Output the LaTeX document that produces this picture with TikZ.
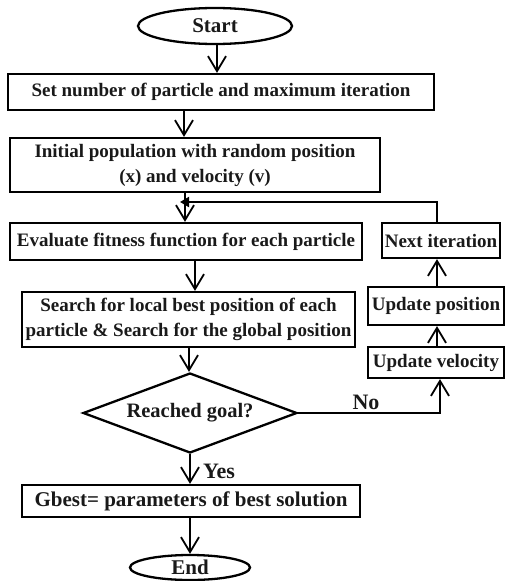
\documentclass[tikz,border=0pt]{standalone}
\usepackage{fontspec}
\setmainfont{Liberation Serif}
\usetikzlibrary{shapes.geometric,arrows.meta}
\tikzset{
  base/.style={draw=black, line width=2.3pt, inner sep=0pt, align=center,
    font=\bfseries\fontsize{19}{25}\selectfont, text=black!90},
  box/.style={base, rectangle},
  term/.style={base, ellipse, font=\bfseries\fontsize{21}{25}\selectfont},
  dec/.style={base, diamond, aspect=2.675, font=\bfseries\fontsize{20.5}{25}\selectfont},
  lab/.style={inner sep=0pt, font=\bfseries\fontsize{22}{25}\selectfont, text=black!90},
  arr/.style={line width=2pt, -{Straight Barb[length=15pt,width=18pt,line width=1.8pt]}},
  looparr/.style={line width=2pt, -{Triangle[length=9pt,width=10pt]}},
}
\begin{document}
\begin{tikzpicture}[x=1pt,y=-1pt]
\useasboundingbox (0,0) rectangle (505,581);
\node[term, minimum width=154pt, minimum height=36pt] (start) at (215,26) {Start};
\node[box, minimum width=426pt, minimum height=36pt] (b1) at (221,92) {Set number of particle and maximum iteration};
\node[box, minimum width=370pt, minimum height=54pt] (b2) at (195,165) {Initial population with random position\\(x) and velocity (v)};
\node[box, minimum width=352pt, minimum height=37pt] (b3) at (186,241.5) {Evaluate fitness function for each particle};
\node[box, minimum width=333pt, minimum height=55pt] (b4) at (188.5,319.5) {Search for local best position of each\\particle \& Search for the global position};
\node[dec, minimum width=214pt, minimum height=80pt] (dia) at (190,413) {Reached goal?};
\node[box, minimum width=338pt, minimum height=32pt, font=\bfseries\fontsize{21}{25}\selectfont] (b5) at (191,501) {Gbest= parameters of best solution};
\node[term, minimum width=120pt, minimum height=25pt] (end) at (190,567.5) {End};
\node[box, minimum width=118pt, minimum height=35pt] (next) at (441,240.5) {Next iteration};
\node[box, minimum width=136pt, minimum height=38pt] (upos) at (436,306) {Update position};
\node[box, minimum width=136pt, minimum height=31pt] (uvel) at (436,362.5) {Update velocity};
\coordinate (j) at (180,202);
\node[lab, anchor=base west] (yes) at (203,478) {Yes};
\node[lab, anchor=base] (no) at (366,409) {No};

\draw[arr] ([xshift=2pt]start.south) -- ([xshift=2pt]start.south |- b1.north);
\draw[arr] ([xshift=-37pt]b1.south) -- ([xshift=-37pt]b1.south |- b2.north);
\draw[arr] ([xshift=-10pt]b2.south) -- ([xshift=-10pt]b2.south |- b3.north);
\draw[arr] ([xshift=9pt]b3.south) -- ([xshift=9pt]b3.south |- b4.north);
\draw[arr] ([xshift=0.5pt]b4.south) -- ([xshift=0.5pt]b4.south |- dia.north);
\draw[arr] (dia.south) -- (dia.south |- b5.north);
\draw[arr] ([xshift=-1pt]b5.south) -- ([xshift=-1pt]b5.south |- end.north);
\draw[arr] (dia.east) -| ([xshift=4pt]uvel.south);
\draw[arr] ([xshift=1pt]uvel.north) -- ([xshift=1pt]upos.south);
\draw[arr] ([xshift=1pt]upos.north) -- ([xshift=-4pt]next.south);
\draw[looparr] ([xshift=-4pt]next.north) |- (j);
\end{tikzpicture}
\end{document}
